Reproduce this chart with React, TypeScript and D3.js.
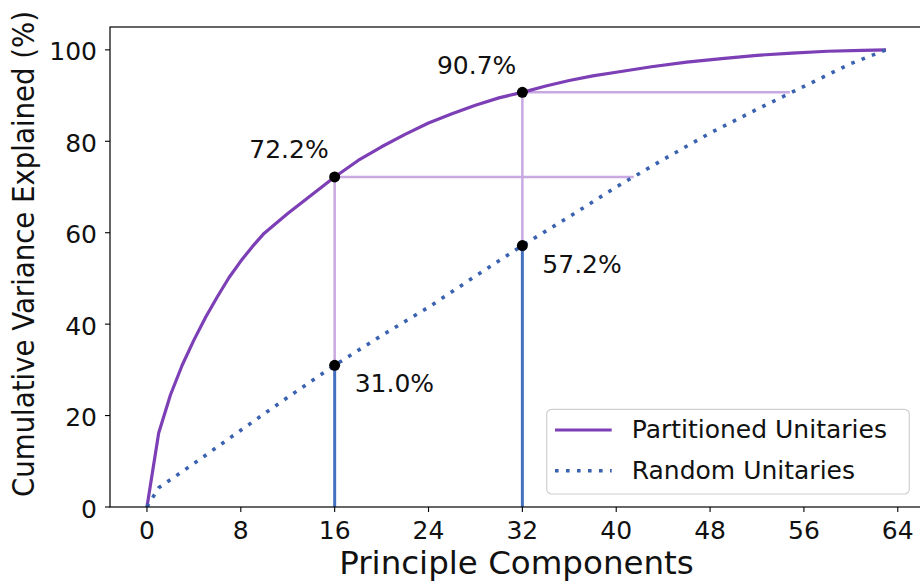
import React from "react";
import * as d3 from "d3";

// Partitioned unitaries cumulative variance (%)
const partX = [0, 1, 2, 3, 4, 5, 6, 7, 8, 9, 10, 12, 14, 16, 18, 20, 22, 24, 26, 28, 30, 32, 34, 36, 38, 40, 43, 46, 49, 52, 55, 58, 61, 63];
const partY = [0, 16.2, 24.5, 31, 36.5, 41.5, 46, 50.2, 53.8, 57, 59.9, 64.2, 68.2, 72.2, 75.8, 78.8, 81.5, 84.0, 86.0, 87.9, 89.5, 90.7, 92.1, 93.3, 94.3, 95.1, 96.3, 97.3, 98.1, 98.8, 99.3, 99.7, 99.9, 100];

// Random unitaries cumulative variance (%)
const randX = [0, 1, 4, 8, 12, 16, 20, 24, 28, 32, 36, 40, 44, 48, 52, 56, 60, 63];
const randY = [0, 4.2, 9.5, 16.8, 24, 31.0, 37.5, 43.7, 50.5, 57.2, 63.5, 70, 76, 81.8, 87, 92, 97, 100];

// Highlighted components
const markX = [16, 32];
const markPart = [72.2, 90.7];
const markRand = [31.0, 57.2];
const markReachX = [41.5, 54.8];

const xTicks = [0, 8, 16, 24, 32, 40, 48, 56, 64];
const yTicks = [0, 20, 40, 60, 80, 100];

const seriesNames = ["Partitioned Unitaries", "Random Unitaries"];
const xLabel = "Principle Components";
const yLabel = "Cumulative Variance Explained (%)";

const PURPLE = "#7d3fb5";
const LIGHT = "#c9a9e1";
const BLUE = "#4470c0";
const DOT = "#3a62b0";
const FONT = "DejaVu Sans, sans-serif";

export default function App() {
  const W = 920, H = 581;
  const left = 110, right = 923, top = 27, bottom = 507;
  const x = d3.scaleLinear().domain([-3.15, 66.15]).range([left, right]);
  const y = d3.scaleLinear().domain([0, 105]).range([bottom, top]);

  const line = d3.line<[number, number]>().x(d => x(d[0])).y(d => y(d[1]));
  const partPath = line(partX.map((v, i) => [v, partY[i]]) as [number, number][]) || "";
  const randPath = line(randX.map((v, i) => [v, randY[i]]) as [number, number][]) || "";

  const fs = 25;

  return (
    <svg width={W} height={H} style={{ position: "absolute", left: 0, top: 0, display: "block" }} fontFamily={FONT}>
      <rect x={0} y={0} width={W} height={H} fill="#fff" />
      <defs>
        <clipPath id="plotclip">
          <rect x={left} y={top} width={right - left} height={bottom - top} />
        </clipPath>
      </defs>
      <g clipPath="url(#plotclip)">
        {markX.map((mx, i) => (
          <g key={"g" + i}>
            <line x1={x(mx)} x2={x(mx)} y1={y(markRand[i])} y2={y(markPart[i])} stroke={LIGHT} strokeWidth={2.5} />
            <line x1={x(mx)} x2={x(markReachX[i])} y1={y(markPart[i])} y2={y(markPart[i])} stroke={LIGHT} strokeWidth={2.5} />
            <line x1={x(mx)} x2={x(mx)} y1={y(0)} y2={y(markRand[i])} stroke={BLUE} strokeWidth={3} />
          </g>
        ))}
        <path d={partPath} fill="none" stroke={PURPLE} strokeWidth={3.2} strokeLinejoin="round" />
        <path d={randPath} fill="none" stroke={DOT} strokeWidth={3.6} strokeDasharray="3.6 7.4" />
        {markX.map((mx, i) => (
          <g key={"m" + i}>
            <circle cx={x(mx)} cy={y(markPart[i])} r={5.5} fill="#000" />
            <circle cx={x(mx)} cy={y(markRand[i])} r={5.5} fill="#000" />
          </g>
        ))}
      </g>
      {markX.map((mx, i) => (
        <g key={"t" + i} fontSize={fs} fill="#111">
          <text x={x(mx) - 6} y={y(markPart[i]) - 18.5} textAnchor="end">{markPart[i].toFixed(1) + "%"}</text>
          <text x={x(mx) + 20} y={y(markRand[i]) + 27} textAnchor="start">{markRand[i].toFixed(1) + "%"}</text>
        </g>
      ))}
      <rect x={left} y={top} width={right - left} height={bottom - top} fill="none" stroke="#000" strokeWidth={1.2} />
      {xTicks.map(t => (
        <g key={"x" + t}>
          <line x1={x(t)} x2={x(t)} y1={bottom} y2={bottom + 5} stroke="#000" strokeWidth={1.1} />
          <text x={x(t)} y={539} textAnchor="middle" fontSize={fs} fill="#111">{t}</text>
        </g>
      ))}
      {yTicks.map(t => (
        <g key={"y" + t}>
          <line x1={left - 5} x2={left} y1={y(t)} y2={y(t)} stroke="#000" strokeWidth={1.1} />
          <text x={97} y={y(t) + 10.5} textAnchor="end" fontSize={fs} fill="#111">{t}</text>
        </g>
      ))}
      <text x={(left + right) / 2} y={574} textAnchor="middle" fontSize={32.5} fill="#111">{xLabel}</text>
      <text transform={`translate(34,254) rotate(-90) scale(0.89,1)`} textAnchor="middle" fontSize={31} fill="#111">{yLabel}</text>
      <g>
        <rect x={546.7} y={409.3} width={362.6} height={84.7} rx={5} fill="#fff" fillOpacity={0.85} stroke="#d0d0d0" strokeWidth={1.2} />
        <line x1={555} x2={611.7} y1={430} y2={430} stroke={PURPLE} strokeWidth={3.2} />
        <text x={631.7} y={438.3} fontSize={fs} fill="#111">{seriesNames[0]}</text>
        <line x1={555} x2={611.7} y1={470.7} y2={470.7} stroke={DOT} strokeWidth={3.6} strokeDasharray="3.6 7.4" />
        <text x={631.7} y={479.3} fontSize={fs} fill="#111">{seriesNames[1]}</text>
      </g>
    </svg>
  );
}
